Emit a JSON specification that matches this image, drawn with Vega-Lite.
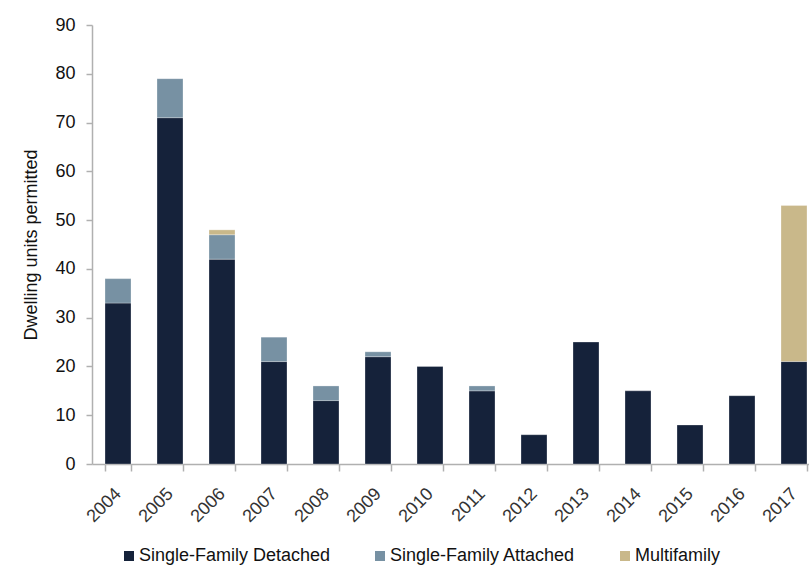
{
  "$schema": "https://vega.github.io/schema/vega-lite/v6.json",
  "autosize": {"type": "none"},
  "width": 728,
  "height": 439,
  "padding": {"left": 92, "top": 25, "right": -11, "bottom": 103},
  "background": "white",
  "config": {
    "font": "Liberation Sans",
    "view": {"stroke": null},
    "axis": {"labelFont": "Liberation Sans", "titleFont": "Liberation Sans"},
    "legend": {"labelFont": "Liberation Sans"}
  },
  "data": {
    "values": [
      {"year": "2004", "type": "Single-Family Detached", "units": 33},
      {"year": "2004", "type": "Single-Family Attached", "units": 5},
      {"year": "2005", "type": "Single-Family Detached", "units": 71},
      {"year": "2005", "type": "Single-Family Attached", "units": 8},
      {"year": "2006", "type": "Single-Family Detached", "units": 42},
      {"year": "2006", "type": "Single-Family Attached", "units": 5},
      {"year": "2006", "type": "Multifamily", "units": 1},
      {"year": "2007", "type": "Single-Family Detached", "units": 21},
      {"year": "2007", "type": "Single-Family Attached", "units": 5},
      {"year": "2008", "type": "Single-Family Detached", "units": 13},
      {"year": "2008", "type": "Single-Family Attached", "units": 3},
      {"year": "2009", "type": "Single-Family Detached", "units": 22},
      {"year": "2009", "type": "Single-Family Attached", "units": 1},
      {"year": "2010", "type": "Single-Family Detached", "units": 20},
      {"year": "2011", "type": "Single-Family Detached", "units": 15},
      {"year": "2011", "type": "Single-Family Attached", "units": 1},
      {"year": "2012", "type": "Single-Family Detached", "units": 6},
      {"year": "2013", "type": "Single-Family Detached", "units": 25},
      {"year": "2014", "type": "Single-Family Detached", "units": 15},
      {"year": "2015", "type": "Single-Family Detached", "units": 8},
      {"year": "2016", "type": "Single-Family Detached", "units": 14},
      {"year": "2017", "type": "Single-Family Detached", "units": 21},
      {"year": "2017", "type": "Multifamily", "units": 32}
    ]
  },
  "mark": {"type": "bar", "stroke": "#ffffff", "strokeOpacity": 0.35, "strokeWidth": 0.8},
  "encoding": {
    "x": {
      "field": "year",
      "type": "ordinal",
      "title": null,
      "scale": {"paddingInner": 0.5, "paddingOuter": 0.25},
      "axis": {
        "labelAngle": -45,
        "labelAlign": "right",
        "labelBaseline": "middle",
        "labelFontSize": 18,
        "labelColor": "#333333",
        "labelPadding": 20,
        "labelDx": 2,
        "domainColor": "#b0b0b0",
        "domainWidth": 1.5,
        "tickColor": "#b0b0b0",
        "tickWidth": 1.5,
        "tickSize": 7,
        "tickBand": "extent"
      }
    },
    "y": {
      "field": "units",
      "type": "quantitative",
      "aggregate": "sum",
      "stack": "zero",
      "title": "Dwelling units permitted",
      "scale": {"domain": [0, 90], "nice": false},
      "axis": {
        "values": [0, 10, 20, 30, 40, 50, 60, 70, 80, 90],
        "grid": false,
        "labelFontSize": 18,
        "labelColor": "#111111",
        "labelPadding": 11,
        "titleFontSize": 18,
        "titleFontWeight": "normal",
        "titleColor": "#111111",
        "titlePadding": 14,
        "domainColor": "#b0b0b0",
        "domainWidth": 1.5,
        "tickColor": "#b0b0b0",
        "tickWidth": 1.5,
        "tickSize": 6
      }
    },
    "color": {
      "field": "type",
      "type": "nominal",
      "sort": ["Single-Family Detached", "Single-Family Attached", "Multifamily"],
      "scale": {
        "domain": ["Single-Family Detached", "Single-Family Attached", "Multifamily"],
        "range": ["#15223a", "#7791a3", "#c9b88a"]
      },
      "legend": {
        "title": null,
        "orient": "none",
        "direction": "horizontal",
        "legendX": 28,
        "legendY": 522,
        "symbolType": "square",
        "symbolSize": 100,
        "symbolStrokeWidth": 0,
        "labelFontSize": 18,
        "labelColor": "#111111",
        "labelOffset": 1,
        "columnPadding": 40,
        "labelLimit": 300
      }
    }
  }
}
